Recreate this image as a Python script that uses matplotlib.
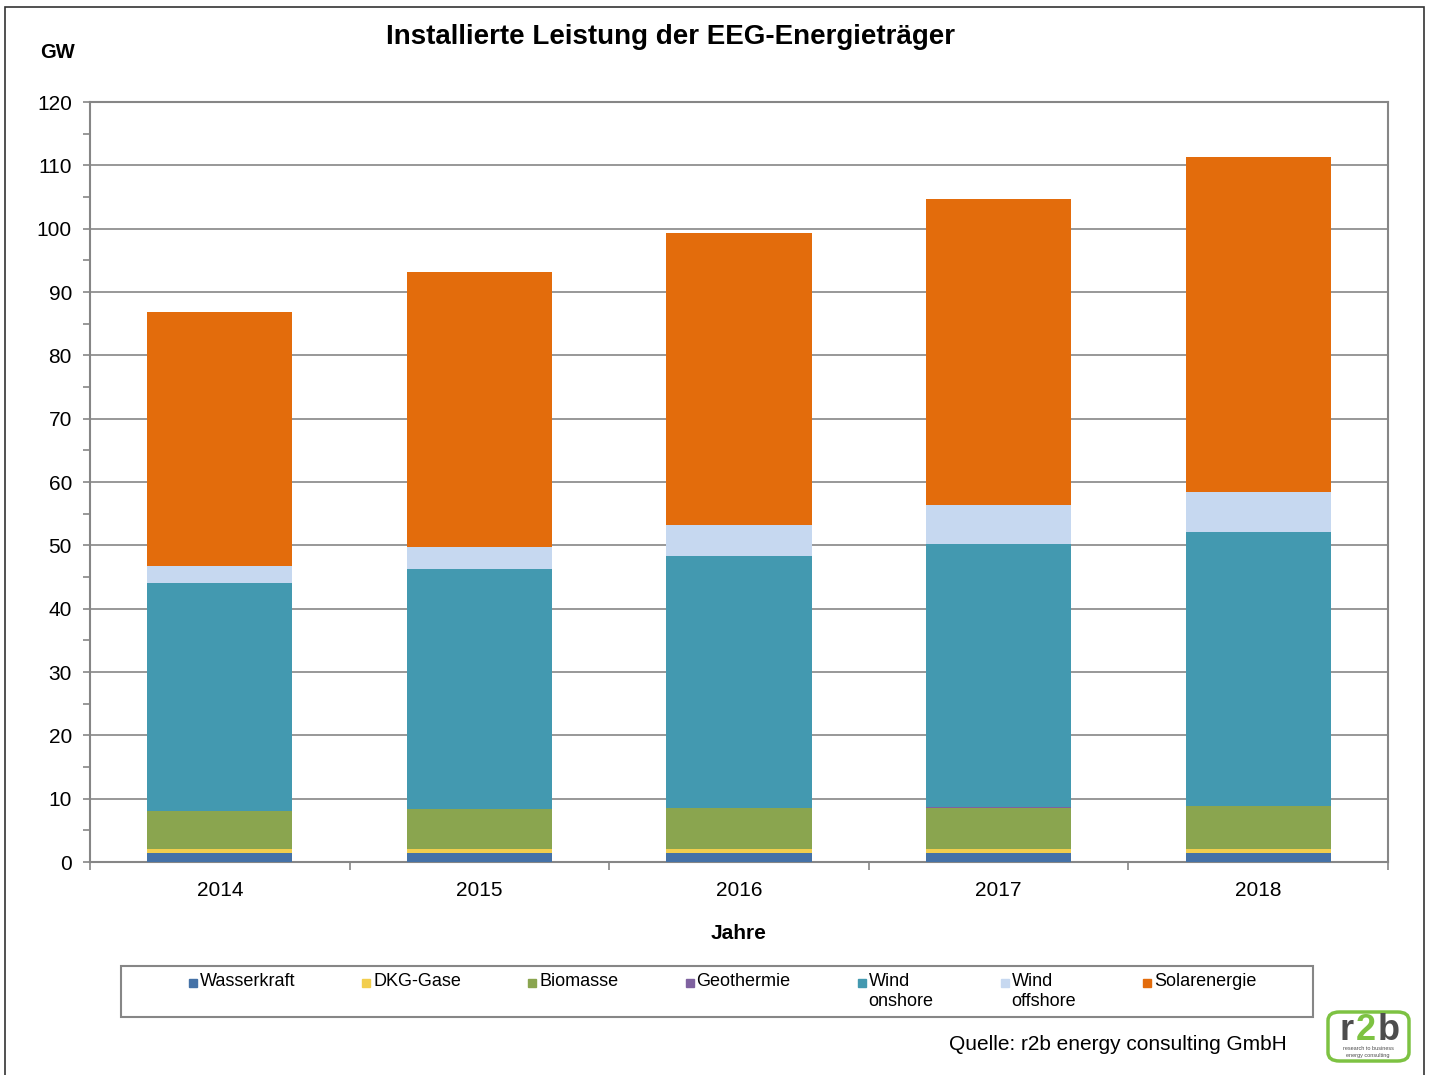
import numpy as np
import matplotlib
matplotlib.use("Agg")
import matplotlib.pyplot as plt
from matplotlib.patches import Rectangle, FancyBboxPatch
from matplotlib.ticker import MultipleLocator

plt.rcParams['font.family'] = ['Liberation Sans', 'DejaVu Sans']

years = ['2014', '2015', '2016', '2017', '2018']
labels = ['Wasserkraft', 'DKG-Gase', 'Biomasse', 'Geothermie',
          'Wind\nonshore', 'Wind\noffshore', 'Solarenergie']
colors = ['#4572A7', '#F2CE4E', '#8AA54F', '#7F62A0', '#4399B0', '#C6D8F0', '#E36C0C']

wasserkraft = [1.5, 1.5, 1.5, 1.5, 1.5]
dkg_gase = [0.5, 0.5, 0.5, 0.5, 0.5]
biomasse = [6.1, 6.3, 6.5, 6.6, 6.8]
geothermie = [0.03, 0.03, 0.04, 0.04, 0.04]
wind_onshore = [36.0, 38.0, 39.8, 41.6, 43.3]
wind_offshore = [2.6, 3.4, 4.9, 6.2, 6.3]
solar = [40.1, 43.5, 46.1, 48.3, 52.9]
series = [wasserkraft, dkg_gase, biomasse, geothermie, wind_onshore, wind_offshore, solar]

W, H = 1432, 1075
fig = plt.figure(figsize=(W / 100, H / 100), dpi=100)
ax = fig.add_axes([90 / W, 1 - 862 / H, (1388 - 90) / W, (862 - 102) / H])

grey = '#868686'
x = np.arange(len(years))
bottom = np.zeros(len(years))
for vals, col, lab in zip(series, colors, labels):
    ax.bar(x, vals, 0.56, bottom=bottom, color=col, label=lab, zorder=3)
    bottom += np.array(vals)

ax.set_xlim(-0.5, len(years) - 0.5)
ax.set_ylim(0, 120)
ax.yaxis.set_major_locator(MultipleLocator(10))
ax.yaxis.set_minor_locator(MultipleLocator(5))
ax.set_xticks(x)
ax.set_xticklabels(years, fontsize=15)
ax.set_xticks(np.arange(-0.5, len(years)), minor=True)
ax.tick_params(axis='x', which='major', length=0, pad=14)
ax.tick_params(axis='x', which='minor', length=6, color=grey, width=1.2)
ax.tick_params(axis='y', which='both', length=5, color=grey, width=1.2, labelsize=15, pad=8)
ax.grid(axis='y', which='major', color=grey, lw=1.2, zorder=0)
for s in ax.spines.values():
    s.set_color(grey)
    s.set_linewidth(1.5)

ax.set_xlabel('Jahre', fontsize=15, fontweight='bold', labelpad=17)

fig.text(670 / W, 1 - 37 / H, 'Installierte Leistung der EEG-Energieträger',
         fontsize=20, fontweight='bold', ha='center', va='center')
fig.text(40 / W, 1 - 52 / H, 'GW', fontsize=14.5, fontweight='bold', ha='left', va='center')
fig.text(1287 / W, 1 - 1044 / H, 'Quelle: r2b energy consulting GmbH',
         fontsize=15, ha='right', va='center')

# outer frame
fig.patches.append(Rectangle((5 / W, -0.01), (1424 - 5) / W, 1 - 7 / H + 0.01,
                             transform=fig.transFigure, fill=False, ec='#333333', lw=1.2))

# legend box
fig.patches.append(Rectangle((121 / W, 1 - 1017 / H), (1313 - 121) / W, (1017 - 966) / H,
                             transform=fig.transFigure, fill=False, ec=grey, lw=1.5))
renderer = fig.canvas.get_renderer()
xp = 189
for lab, col in zip(labels, colors):
    fig.patches.append(Rectangle((xp / W, 1 - 987 / H), 8 / W, 8 / H,
                                 transform=fig.transFigure, color=col))
    t = fig.text((xp + 11) / W, 1 - 973 / H, lab, fontsize=13, ha='left', va='top',
                 linespacing=1.25)
    w = t.get_window_extent(renderer).width
    xp = xp + 11 + w + 67

# logo
fig.patches.append(FancyBboxPatch((1328 / W, 1 - 1061 / H), 81 / W, 49 / H,
                                  boxstyle='round,pad=0,rounding_size=0.008',
                                  transform=fig.transFigure, fill=False, ec='#7DC242', lw=2.5))
fig.text(1347 / W, 1 - 1030 / H, 'r', fontsize=26, fontweight='bold', color='#4D4D4D',
         ha='center', va='center')
fig.text(1366 / W, 1 - 1030 / H, '2', fontsize=26, fontweight='bold', color='#7DC242',
         ha='center', va='center')
fig.text(1389 / W, 1 - 1030 / H, 'b', fontsize=26, fontweight='bold', color='#4D4D4D',
         ha='center', va='center')
fig.text(1368 / W, 1 - 1049 / H, 'research to business', fontsize=4, color='#4D4D4D',
         ha='center', va='center')
fig.text(1368 / W, 1 - 1055 / H, 'energy consulting', fontsize=4, color='#4D4D4D',
         ha='center', va='center')

fig.savefig('out.png', dpi=100)
